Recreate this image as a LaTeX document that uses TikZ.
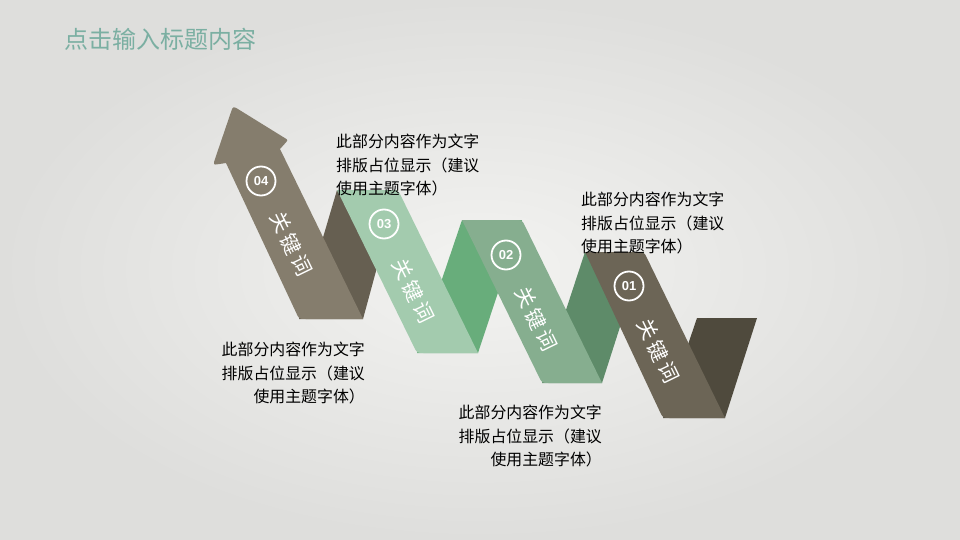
\documentclass[tikz,border=0pt]{standalone}
\usepackage{fontspec}
\setmainfont{Liberation Sans}
\newfontfamily\cjk{Noto Sans CJK SC}
\usepackage{tikz}

\definecolor{bgin}{RGB}{243,243,241}
\definecolor{bgout}{RGB}{222,222,220}
\definecolor{titlegreen}{RGB}{123,175,162}
\definecolor{taupe}{RGB}{133,125,109}
\definecolor{taupeback}{RGB}{102,95,81}
\definecolor{palegreen}{RGB}{163,203,174}
\definecolor{midgreen}{RGB}{104,173,123}
\definecolor{sagegreen}{RGB}{134,174,143}
\definecolor{deepgreen}{RGB}{94,139,105}
\definecolor{darktaupe}{RGB}{108,101,86}
\definecolor{darkback}{RGB}{79,74,61}

\tikzset{
  numring/.style={circle, draw=white, line width=1.8pt, minimum size=29pt, inner sep=0pt,
    text=white, font=\bfseries\fontsize{13}{13}\selectfont},
  keyword/.style={text=white, rotate=-64, inner sep=0pt, font=\cjk\fontsize{20.5}{20.5}\selectfont},
  desc/.style={inner sep=0pt, text=black, font=\cjk\fontsize{15.9}{23.5}\selectfont}
}

\begin{document}
\begin{tikzpicture}[x=1pt,y=-1pt]
    \shade[inner color=bgin, outer color=bgout] (0,0) rectangle (960,540);
    \useasboundingbox (0,0) rectangle (960,540);
    \node[anchor=west, inner sep=0pt, text=titlegreen, font=\cjk\fontsize{24}{24}\selectfont] (title) at (64,39) {点击输入标题内容};

    % folds behind the ribbon
    \fill[taupeback] (299,319) -- (363,319) -- (398,190) -- (337,190) -- cycle;
    \fill[midgreen] (417,353) -- (478,353) -- (522,220) -- (462,220) -- cycle;
    \fill[deepgreen] (542,383) -- (602,383) -- (644,252) -- (585,252) -- cycle;
    \fill[darkback] (663,418) -- (725,418) -- (757,318) -- (697,318) -- cycle;

    % front of the ribbon
    \fill[taupe] (363,319) -- (280,149) -- (285.4,143) .. controls (288,140) .. (284.6,137.9) -- (239,109.7)
      .. controls (233,106) .. (230.8,112.6) -- (215.2,158.4) .. controls (213,165) .. (218.9,164.1) -- (226,163)
      -- (296.1,312.6) .. controls (299,319) .. (306,319) -- cycle;
    \fill[palegreen] (337,190) -- (391,190) .. controls (398,190) .. (401.1,196.3) -- (478,353) -- (424,353)
      .. controls (417,353) .. (413.9,346.7) -- cycle;
    \fill[sagegreen] (462,220) -- (515,220) .. controls (522,220) .. (525.1,226.3) -- (602,383) -- (549,383)
      .. controls (542,383) .. (538.9,376.7) -- cycle;
    \fill[darktaupe] (585,252) -- (637,252) .. controls (644,252) .. (647.1,258.3) -- (725,418) -- (670,418)
      .. controls (663,418) .. (659.9,411.7) -- cycle;

    \node[numring] (n4) at (261,181) {04};
    \node[numring] (n3) at (384,224) {03};
    \node[numring] (n2) at (506,255) {02};
    \node[numring] (n1) at (629,286) {01};

    \node[keyword] (k4) at (291,244) {关\,键\,词};
    \node[keyword] (k3) at (413,291) {关\,键\,词};
    \node[keyword] (k2) at (536,319) {关\,键\,词};
    \node[keyword] (k1) at (658,351) {关\,键\,词};

    \node[desc, anchor=north west, align=left] (d3) at (336,134) {此部分内容作为文字\\排版占位显示（建议\\使用主题字体）};
    \node[desc, anchor=north west, align=left] (d1) at (581,192) {此部分内容作为文字\\排版占位显示（建议\\使用主题字体）};
    \node[desc, anchor=north east, align=right] (d4) at (365,342) {此部分内容作为文字\\排版占位显示（建议\\使用主题字体）};
    \node[desc, anchor=north east, align=right] (d2) at (602,405) {此部分内容作为文字\\排版占位显示（建议\\使用主题字体）};
\end{tikzpicture}
\end{document}
